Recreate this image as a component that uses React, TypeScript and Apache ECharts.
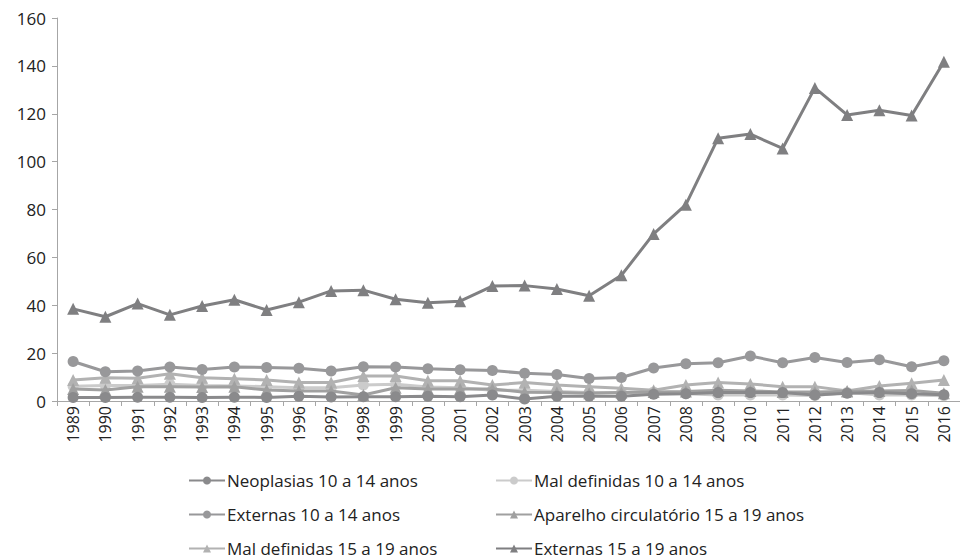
import React, { useEffect, useRef } from "react";
import * as echarts from "echarts";

const years = ["1989","1990","1991","1992","1993","1994","1995","1996","1997","1998","1999","2000","2001","2002","2003","2004","2005","2006","2007","2008","2009","2010","2011","2012","2013","2014","2015","2016"];

const neoplasias1014 = [1.5,1.5,1.6,1.6,1.5,1.6,1.5,2.0,1.7,1.8,1.8,2.0,1.8,2.5,0.8,2.0,2.0,2.0,2.8,3.0,3.5,3.5,3.5,2.5,3.2,3.5,3.0,2.6];
const malDef1014 = [6.2,6.5,6.5,7.0,6.5,6.3,6.0,5.5,5.5,6.7,7.0,5.8,5.5,4.5,4.5,4.0,3.5,3.5,3.8,3.0,2.5,2.5,2.5,2.3,3.5,2.5,2.5,2.2];
const externas1014 = [16.5,12.2,12.5,14.2,13.2,14.2,14.0,13.7,12.5,14.3,14.2,13.5,13.1,12.7,11.6,11.1,9.4,9.8,13.8,15.6,16.0,18.8,16.0,18.2,16.1,17.2,14.3,16.8];
const aparelho1519 = [5.0,4.6,6.0,6.0,5.8,6.0,4.6,4.2,4.2,2.5,5.5,5.0,5.0,5.0,3.7,3.5,3.2,3.6,3.8,4.0,4.5,4.2,3.8,3.8,4.0,4.2,4.4,3.2];
const malDef1519 = [8.8,9.7,9.5,11.4,9.7,9.3,8.8,7.7,7.7,10.4,10.4,8.5,8.5,6.7,7.7,6.7,6.0,5.3,4.5,6.7,7.7,7.1,6.0,6.0,4.2,6.3,7.4,8.8];
const externas1519 = [38.5,35.2,40.7,36.0,39.7,42.3,38.0,41.3,46.0,46.3,42.5,41.0,41.7,48.0,48.2,46.8,44.0,52.5,69.8,82.0,109.8,111.5,105.5,130.8,119.5,121.5,119.3,141.7];

const yTicks = [0, 20, 40, 60, 80, 100, 120, 140, 160];

const names = [
  "Neoplasias 10 a 14 anos",
  "Mal definidas 10 a 14 anos",
  "Externas 10 a 14 anos",
  "Aparelho circulatório 15 a 19 anos",
  "Mal definidas 15 a 19 anos",
  "Externas 15 a 19 anos",
];

export default function App() {
  const ref = useRef<HTMLDivElement>(null);
  useEffect(() => {
    if (!ref.current) return;
    const chart = echarts.init(ref.current, null, { renderer: "svg" });
    const font = "'Open Sans', sans-serif";
    const mk = (name: string, data: number[], color: string, symbol: string, z: number) => ({
      name,
      type: "line",
      data,
      symbol,
      symbolSize: symbol === "circle" ? 11 : 12,
      lineStyle: { color, width: 3 },
      itemStyle: { color },
      z,
    });
    const legendText = { fontSize: 17, color: "#222", fontFamily: font, padding: [0, 0, 0, -3] };
    chart.setOption({
      animation: false,
      backgroundColor: "#ffffff",
      textStyle: { fontFamily: font },
      grid: { left: 57, right: 0, top: 18, bottom: 159, containLabel: false },
      xAxis: {
        type: "category",
        data: years,
        boundaryGap: true,
        axisLine: { lineStyle: { color: "#a6a6a6", width: 1 } },
        axisTick: { show: true, alignWithLabel: false, length: 5, lineStyle: { color: "#a6a6a6" } },
        axisLabel: { rotate: 90, color: "#222", fontSize: 16, margin: 5, fontFamily: font, interval: 0 },
      },
      yAxis: {
        type: "value",
        min: yTicks[0],
        max: yTicks[yTicks.length - 1],
        interval: 20,
        axisLine: { show: true, lineStyle: { color: "#a6a6a6", width: 1 } },
        axisTick: { show: true, length: 5, lineStyle: { color: "#a6a6a6" } },
        splitLine: { show: false },
        axisLabel: { color: "#222", fontSize: 17, margin: 11, fontFamily: font },
      },
      legend: [
        {
          data: [names[0], names[2], names[4]],
          orient: "vertical",
          left: 183,
          top: 472,
          height: 88,
          padding: [0, 5, 0, 5],
          itemGap: 17,
          itemWidth: 36,
          itemHeight: 10,
          textStyle: legendText,
        },
        {
          data: [names[1], names[3], names[5]],
          orient: "vertical",
          left: 490,
          top: 472,
          height: 88,
          padding: [0, 5, 0, 5],
          itemGap: 17,
          itemWidth: 36,
          itemHeight: 10,
          textStyle: legendText,
        },
      ],
      series: [
        mk(names[0], neoplasias1014, "#8a8a8c", "circle", 6),
        mk(names[1], malDef1014, "#cbcbcb", "circle", 2),
        mk(names[2], externas1014, "#98989a", "circle", 4),
        mk(names[3], aparelho1519, "#a0a0a0", "triangle", 5),
        mk(names[4], malDef1519, "#b2b2b2", "triangle", 3),
        mk(names[5], externas1519, "#7f7f81", "triangle", 7),
      ],
    });
    return () => chart.dispose();
  }, []);
  return (
    <div
      ref={ref}
      style={{ position: "fixed", left: 0, top: 0, width: 960, height: 560 }}
    />
  );
}
